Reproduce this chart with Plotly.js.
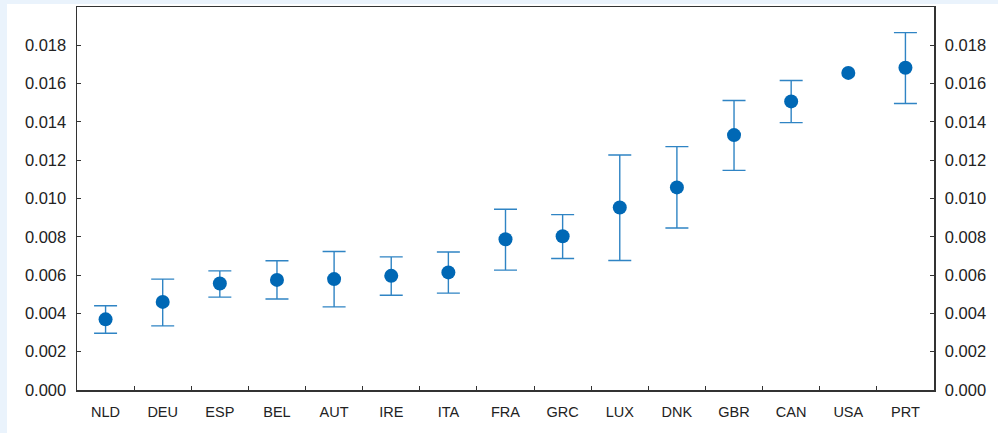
<!DOCTYPE html>
<html>
<head>
<meta charset="utf-8">
<script src="https://cdn.plot.ly/plotly-3.0.1.min.js"></script>
<style>
html,body{margin:0;padding:0;background:#eaf3fc;width:998px;height:433px;overflow:hidden;}
#chart{position:absolute;left:7px;top:4px;width:991px;height:429px;background:#fff;}
</style>
</head>
<body>
<div id="chart"></div>
<script>
const countries = ["NLD","DEU","ESP","BEL","AUT","IRE","ITA","FRA","GRC","LUX","DNK","GBR","CAN","USA","PRT"];
const estimate  = [0.00369,0.00460,0.00556,0.00575,0.00579,0.00596,0.00614,0.00787,0.00803,0.00953,0.01058,0.01331,0.01507,0.01656,0.01683];
const upper     = [0.00440,0.00579,0.00622,0.00675,0.00723,0.00695,0.00721,0.00944,0.00916,0.01227,0.01271,0.01512,0.01616,null,0.01866];
const lower     = [0.00296,0.00335,0.00485,0.00475,0.00434,0.00495,0.00506,0.00626,0.00687,0.00676,0.00846,0.01147,0.01396,null,0.01496];
const yTicks    = [0,0.002,0.004,0.006,0.008,0.010,0.012,0.014,0.016,0.018];

const errPlus  = estimate.map((v,i)=> upper[i]===null ? NaN : upper[i]-v);
const errMinus = estimate.map((v,i)=> lower[i]===null ? NaN : v-lower[i]);

const trace = {
  x: countries, y: estimate, type: "scatter", mode: "markers",
  marker: {color: "#0068b5", size: 14},
  error_y: {type: "data", symmetric: false, array: errPlus, arrayminus: errMinus,
            color: "#2f84c4", thickness: 1.4, width: 11.5},
  hoverinfo: "x+y", showlegend: false
};
const dummy = {
  x: countries, y: estimate, type: "scatter", mode: "markers", yaxis: "y2",
  marker: {opacity: 0}, hoverinfo: "skip", showlegend: false
};

const tickFontY = {family: "Liberation Sans, Arial, sans-serif", size: 16.5, color: "#222"};
const tickFontX = {family: "Liberation Sans, Arial, sans-serif", size: 14.5, color: "#222"};
const yCommon = {
  range: [0, 0.02], tickvals: yTicks, ticktext: yTicks.map(v=>v.toFixed(3)),
  ticks: "inside", ticklen: 4, tickcolor: "#333", tickwidth: 1,
  showline: true, linecolor: "#333", linewidth: 1.5,
  showgrid: false, zeroline: false, tickfont: tickFontY, ticklabelstandoff: 6
};

const layout = {
  width: 991, height: 429,
  margin: {l: 70, r: 64, t: 3, b: 43},
  paper_bgcolor: "#ffffff", plot_bgcolor: "#ffffff",
  xaxis: {
    type: "category", range: [-0.5, 14.5],
    ticks: "inside", tickson: "boundaries", ticklen: 4, tickcolor: "#333", tickwidth: 1,
    showline: true, linecolor: "#333", linewidth: 1.5, mirror: true,
    showgrid: false, zeroline: false, tickfont: tickFontX, ticklabelstandoff: 8
  },
  yaxis: Object.assign({side: "left"}, yCommon),
  yaxis2: Object.assign({side: "right", overlaying: "y"}, yCommon),
  showlegend: false
};

Plotly.newPlot("chart", [trace, dummy], layout, {displayModeBar: false, staticPlot: true});
</script>
</body>
</html>
